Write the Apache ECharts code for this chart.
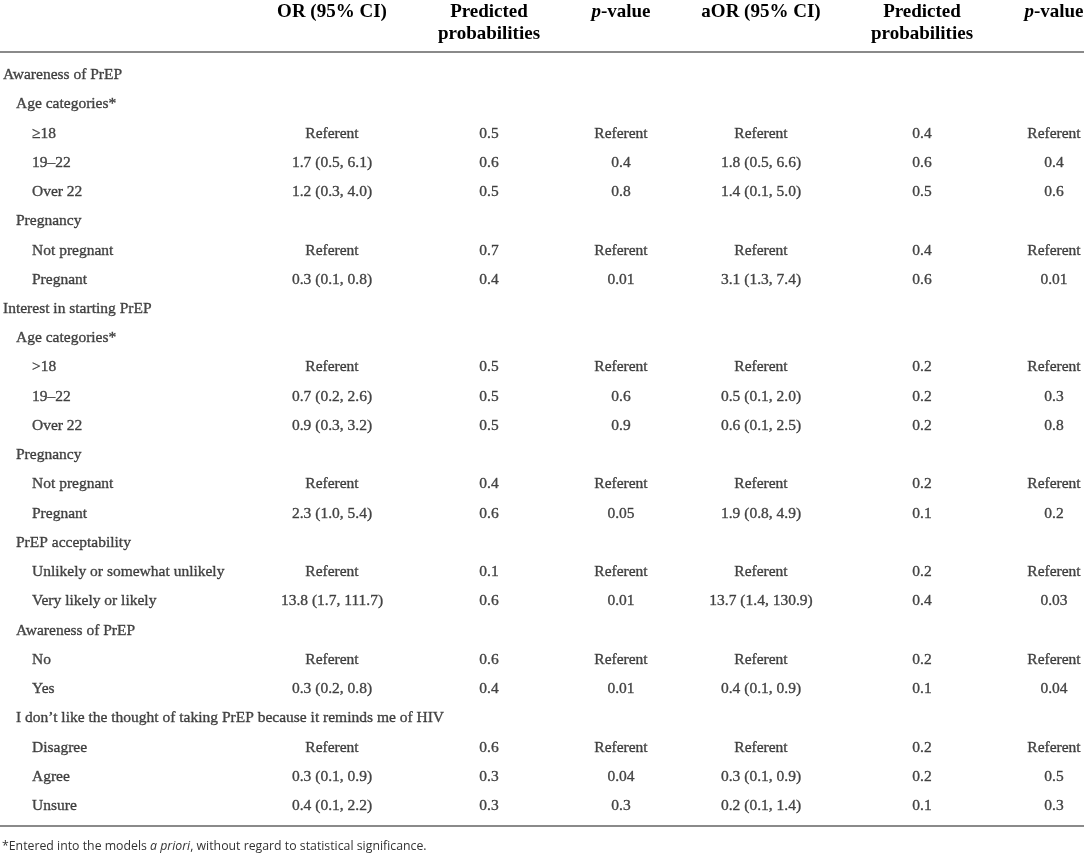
<!DOCTYPE html>
<html>
<head>
<meta charset="utf-8">
<script src="https://cdn.jsdelivr.net/npm/echarts@6/dist/echarts.min.js"></script>
<style>
  html, body { margin: 0; padding: 0; background: #fff; }
  #table { width: 1084px; height: 854px; }
</style>
</head>
<body>
<div id="table"></div>
<script>
// row labels and their indent level (0 = section, 1 = variable, 2 = level)
const rowLabels = [
  'Awareness of PrEP', 'Age categories*', '≥18', '19–22', 'Over 22',
  'Pregnancy', 'Not pregnant', 'Pregnant',
  'Interest in starting PrEP', 'Age categories*', '>18', '19–22', 'Over 22',
  'Pregnancy', 'Not pregnant', 'Pregnant',
  'PrEP acceptability', 'Unlikely or somewhat unlikely', 'Very likely or likely',
  'Awareness of PrEP', 'No', 'Yes',
  'I don\u2019t like the thought of taking PrEP because it reminds me of HIV',
  'Disagree', 'Agree', 'Unsure'
];
const rowLevel = [0, 1, 2, 2, 2, 1, 2, 2, 0, 1, 2, 2, 2, 1, 2, 2, 1, 2, 2, 1, 2, 2, 1, 2, 2, 2];

const orCI = ['', '', 'Referent', '1.7 (0.5, 6.1)', '1.2 (0.3, 4.0)', '', 'Referent', '0.3 (0.1, 0.8)',
  '', '', 'Referent', '0.7 (0.2, 2.6)', '0.9 (0.3, 3.2)', '', 'Referent', '2.3 (1.0, 5.4)',
  '', 'Referent', '13.8 (1.7, 111.7)', '', 'Referent', '0.3 (0.2, 0.8)',
  '', 'Referent', '0.3 (0.1, 0.9)', '0.4 (0.1, 2.2)'];
const predProb = ['', '', '0.5', '0.6', '0.5', '', '0.7', '0.4',
  '', '', '0.5', '0.5', '0.5', '', '0.4', '0.6',
  '', '0.1', '0.6', '', '0.6', '0.4',
  '', '0.6', '0.3', '0.3'];
const pValue = ['', '', 'Referent', '0.4', '0.8', '', 'Referent', '0.01',
  '', '', 'Referent', '0.6', '0.9', '', 'Referent', '0.05',
  '', 'Referent', '0.01', '', 'Referent', '0.01',
  '', 'Referent', '0.04', '0.3'];
const aorCI = ['', '', 'Referent', '1.8 (0.5, 6.6)', '1.4 (0.1, 5.0)', '', 'Referent', '3.1 (1.3, 7.4)',
  '', '', 'Referent', '0.5 (0.1, 2.0)', '0.6 (0.1, 2.5)', '', 'Referent', '1.9 (0.8, 4.9)',
  '', 'Referent', '13.7 (1.4, 130.9)', '', 'Referent', '0.4 (0.1, 0.9)',
  '', 'Referent', '0.3 (0.1, 0.9)', '0.2 (0.1, 1.4)'];
const adjPredProb = ['', '', '0.4', '0.6', '0.5', '', '0.4', '0.6',
  '', '', '0.2', '0.2', '0.2', '', '0.2', '0.1',
  '', '0.2', '0.4', '', '0.2', '0.1',
  '', '0.2', '0.2', '0.1'];
const adjPValue = ['', '', 'Referent', '0.4', '0.6', '', 'Referent', '0.01',
  '', '', 'Referent', '0.3', '0.8', '', 'Referent', '0.2',
  '', 'Referent', '0.03', '', 'Referent', '0.04',
  '', 'Referent', '0.5', '0.3'];

const headers = ['OR (95% CI)', 'Predicted\nprobabilities', '{i|p}-value',
  'aOR (95% CI)', 'Predicted\nprobabilities', '{i|p}-value'];
const footnote = '*Entered into the models {i|a priori}, without regard to statistical significance.';

// layout
const W = 1084;
const colX = [332, 489, 621, 761, 922, 1054];
const indentX = [3, 16, 32];
const rowH = 29.24;
const firstRowY = 75;
const serif = '"Liberation Serif", "DejaVu Serif", serif';
const sans = '"Open Sans", sans-serif';
const textColor = '#1a1a1a';

const columns = [orCI, predProb, pValue, aorCI, adjPredProb, adjPValue];

function textSeries(points, align) {
  return {
    type: 'scatter',
    symbolSize: 1,
    itemStyle: { color: 'rgba(0,0,0,0)' },
    silent: true,
    data: points,
    label: {
      show: true, position: 'inside', align: align, verticalAlign: 'middle',
      formatter: p => p.value[2],
      fontFamily: serif, fontSize: 15.5, color: textColor,
      textBorderWidth: 0.35, textBorderColor: textColor
    }
  };
}

const series = [textSeries(rowLabels.map((t, i) => [indentX[rowLevel[i]], i, t]), 'left')];
columns.forEach((col, c) => {
  series.push(textSeries(col.map((t, i) => [colX[c], i, t]).filter(d => d[2] !== ''), 'center'));
});

const graphic = headers.map((h, c) => ({
  type: 'text',
  position: [colX[c], 1],
  style: {
    text: h, x: 0, y: 0, align: 'center', verticalAlign: 'top',
    fontFamily: serif, fontSize: 19, fontWeight: 'bold', lineHeight: 22, fill: '#000',
    rich: { i: { fontStyle: 'italic', fontFamily: serif, fontSize: 19, fontWeight: 'bold', lineHeight: 22 } }
  }
}));
graphic.push(
  { type: 'line', shape: { x1: 0, y1: 52, x2: W, y2: 52 }, style: { stroke: '#8a8a8a', lineWidth: 2 } },
  { type: 'line', shape: { x1: 0, y1: 826, x2: W, y2: 826 }, style: { stroke: '#8a8a8a', lineWidth: 2 } },
  {
    type: 'text', position: [2, 846],
    style: {
      text: footnote, x: 0, y: 0, align: 'left', verticalAlign: 'middle',
      fontFamily: sans, fontSize: 12.3, fill: '#333',
      rich: { i: { fontStyle: 'italic', fontFamily: sans, fontSize: 12.3 } }
    }
  }
);

const chart = echarts.init(document.getElementById('table'), null, { renderer: 'canvas' });
chart.setOption({
  animation: false,
  backgroundColor: '#fff',
  grid: { left: 0, right: 0, top: firstRowY - rowH / 2, height: rowH * rowLabels.length },
  xAxis: { type: 'value', min: 0, max: W, show: false },
  yAxis: { type: 'category', inverse: true, data: rowLabels.map((_, i) => i), show: false },
  series: series,
  graphic: graphic
});
</script>
</body>
</html>
